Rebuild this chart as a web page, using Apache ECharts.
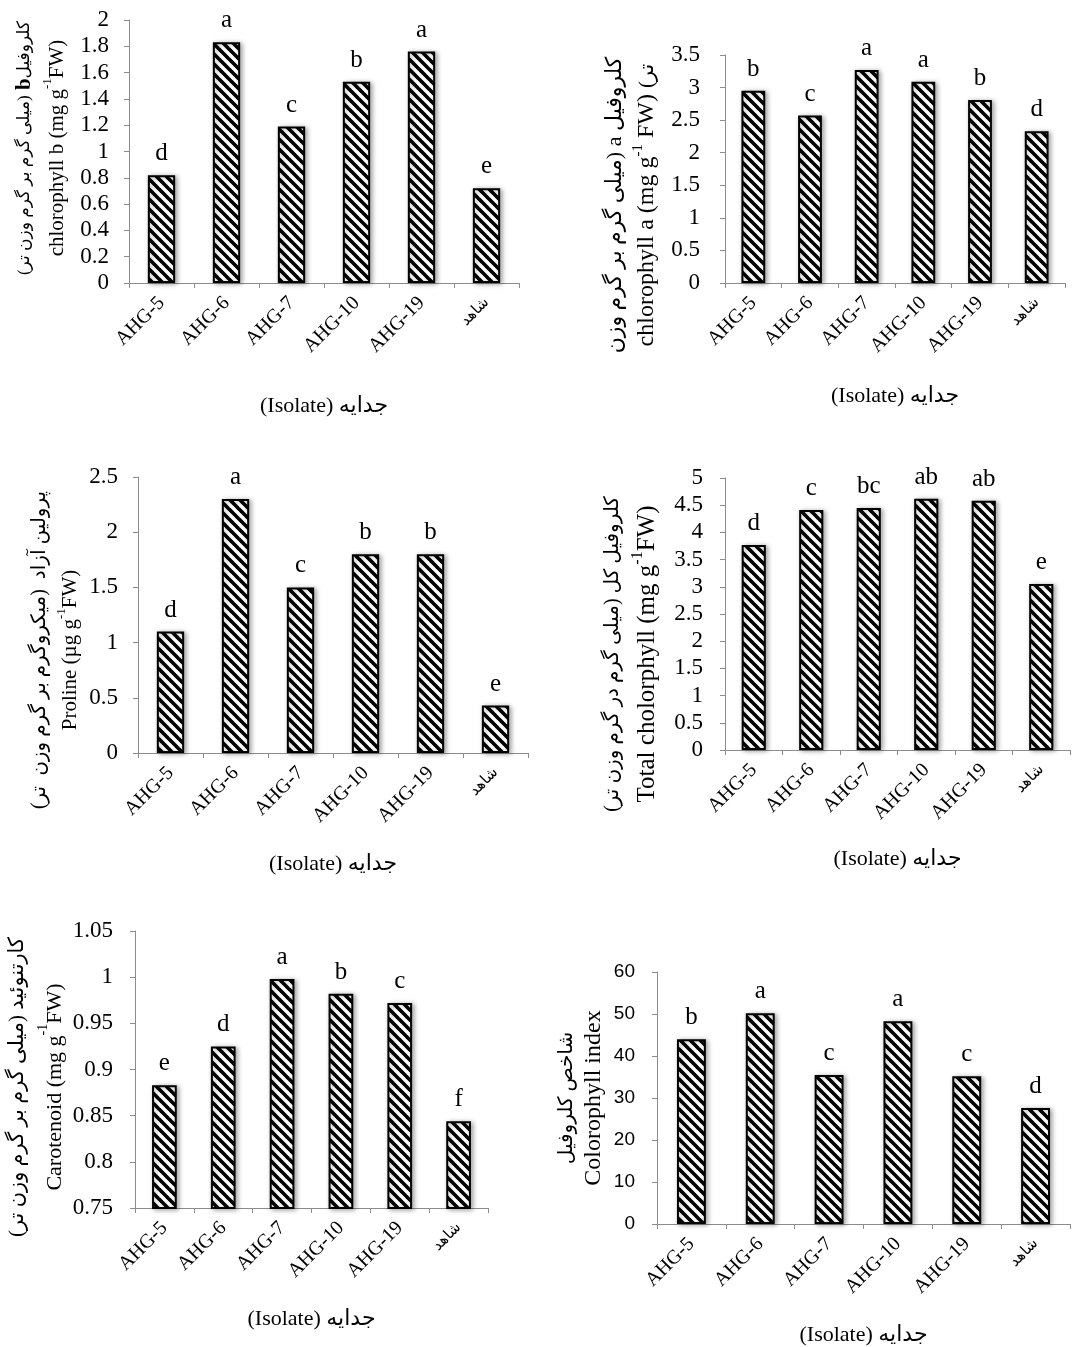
<!DOCTYPE html>
<html>
<head>
<meta charset="utf-8">
<script src="https://cdn.jsdelivr.net/npm/echarts@6/dist/echarts.min.js"></script>
<style>
html,body{margin:0;padding:0;background:#fff;}
#chart{width:1072px;height:1347px;}
</style>
</head>
<body>
<div id="chart"></div>
<script>
// ---------- data ----------
const categories = ['AHG-5', 'AHG-6', 'AHG-7', 'AHG-10', 'AHG-19', 'شاهد'];

const chlorophyllB = [0.82, 1.83, 1.19, 1.53, 1.76, 0.72];
const chlorophyllBLetters = ['d', 'a', 'c', 'b', 'a', 'e'];

const chlorophyllA = [2.95, 2.57, 3.27, 3.09, 2.81, 2.33];
const chlorophyllALetters = ['b', 'c', 'a', 'a', 'b', 'd'];

const proline = [1.10, 2.30, 1.50, 1.80, 1.80, 0.43];
const prolineLetters = ['d', 'a', 'c', 'b', 'b', 'e'];

const totalChlorophyll = [3.77, 4.41, 4.45, 4.62, 4.58, 3.05];
const totalChlorophyllLetters = ['d', 'c', 'bc', 'ab', 'ab', 'e'];

const carotenoid = [0.883, 0.925, 0.998, 0.982, 0.972, 0.844];
const carotenoidLetters = ['e', 'd', 'a', 'b', 'c', 'f'];

const chlorophyllIndex = [44.0, 50.2, 35.5, 48.3, 35.2, 27.6];
const chlorophyllIndexLetters = ['b', 'a', 'c', 'a', 'c', 'd'];

// y-axis scales (min, max, interval)
const yScales = [
  [0, 2, 0.2],
  [0, 3.5, 0.5],
  [0, 2.5, 0.5],
  [0, 5, 0.5],
  [0.75, 1.05, 0.05],
  [0, 60, 10]
];

const xAxisTitle = '(Isolate) جدایه';

// ---------- styling ----------
const SERIF = "'Liberation Serif', 'Times New Roman', 'DejaVu Sans', serif";
const SANS = "'Liberation Sans', Arial, 'DejaVu Sans', sans-serif";
const RLE = '\u202B', PDF = '\u202C';
const rtl = s => RLE + s + PDF;

function makePattern() {
  const c = document.createElement('canvas');
  const n = 10;
  c.width = n; c.height = n;
  const g = c.getContext('2d');
  g.fillStyle = '#fff';
  g.fillRect(0, 0, n, n);
  g.strokeStyle = '#000';
  g.lineWidth = 3.6;
  g.lineCap = 'square';
  for (const o of [-n, 0, n]) {
    g.beginPath();
    g.moveTo(o - 2, -2);
    g.lineTo(o + n + 2, n + 2);
    g.stroke();
  }
  return c;
}
const pattern = makePattern();

// grids: [left, top, width, height]
const grids = [
  [129, 20, 390, 263],
  [725, 55, 340, 228],
  [138, 477, 390, 276],
  [725, 478, 345, 272],
  [135, 931, 353, 277],
  [657, 972, 413, 253]
];

// y-axis titles: [centerX, centerY, persianSize, englishSize, lineHeight]
const yTitleLayout = [
  [41, 148, 17, 21, 32],
  [631, 205, 22, 24, 32],
  [55, 650, 20, 21, 30],
  [630, 654, 20, 25, 34],
  [36, 1087, 21, 22, 38],
  [580, 1098, 20, 24, 27]
];
const yTitles = [
  '{per|' + '(میلی گرم بر گرم وزن تر)' + '}{perB| b}{per|' + 'کلروفیل' + '}\n{en|chlorophyll b (mg g}{sup|-1}{en|FW)}',
  '{per|' + rtl('کلروفیل a (میلی گرم بر گرم وزن') + '}\n{en|chlorophyll a (mg g}{sup|-1}{en| FW) }{per2|' + '(تر' + '}',
  '{per|' + rtl('پرولین آزاد  (میکروگرم بر گرم وزن  تر)') + '}\n{en|Proline (µg g}{sup|-1}{en|FW)}',
  '{per|' + rtl('کلروفیل کل (میلی گرم در گرم وزن تر)') + '}\n{en|Total cholorphyll (mg g}{sup|-1}{en|FW)}',
  '{per|' + rtl('کارتنوئید (میلی گرم بر گرم وزن تر)') + '}\n{en|Carotenoid (mg g}{sup|-1}{en|FW)}',
  '{per|' + rtl('شاخص کلروفیل') + '}\n{en|Colorophyll index}'
];

const yLabelMargins = [20, 25, 20, 22, 22, 22];
const xNameGaps = [112, 102, 100, 98, 100, 100];

const seriesValues = [chlorophyllB, chlorophyllA, proline, totalChlorophyll, carotenoid, chlorophyllIndex];
const seriesLetters = [chlorophyllBLetters, chlorophyllALetters, prolineLetters, totalChlorophyllLetters, carotenoidLetters, chlorophyllIndexLetters];

const axisGray = '#8c8c8c';

function titleRich(ps, es, lh) {
  return {
    per: { fontFamily: SERIF, fontSize: ps, color: '#000', lineHeight: lh },
    per2: { fontFamily: SERIF, fontSize: es - 3, color: '#000', lineHeight: lh },
    perB: { fontFamily: SERIF, fontSize: ps + 4, fontWeight: 'bold', color: '#000', lineHeight: lh },
    en: { fontFamily: SERIF, fontSize: es, color: '#000', lineHeight: lh },
    sup: { fontFamily: SERIF, fontSize: Math.round(es * 0.62), color: '#000', verticalAlign: 'top', lineHeight: lh }
  };
}

const option = {
  backgroundColor: '#fff',
  animation: false,
  grid: grids.map(g => ({ left: g[0], top: g[1], width: g[2], height: g[3], containLabel: false })),
  graphic: yTitles.map((t, i) => {
    const L = yTitleLayout[i];
    return {
      type: 'text',
      x: L[0],
      y: L[1],
      rotation: Math.PI / 2,
      silent: true,
      style: {
        text: t,
        align: 'center',
        verticalAlign: 'middle',
        fill: '#000',
        font: L[3] + 'px ' + SERIF,
        rich: titleRich(L[2], L[3], L[4])
      }
    };
  }),
  xAxis: grids.map((g, i) => ({
    type: 'category',
    gridIndex: i,
    data: categories.map(c => c === 'شاهد'
      ? { value: c, textStyle: { fontFamily: SANS, fontSize: 15 } }
      : c),
    boundaryGap: true,
    axisLine: { show: true, lineStyle: { color: axisGray, width: 1 } },
    axisTick: { show: true, length: 5, lineStyle: { color: axisGray } },
    axisLabel: { interval: 0, rotate: 45, margin: 17, fontFamily: SERIF, fontSize: 20, color: '#000' },
    splitLine: { show: false },
    name: xAxisTitle,
    nameLocation: 'middle',
    nameGap: xNameGaps[i],
    nameTextStyle: { fontFamily: SERIF, fontSize: 22, color: '#000' }
  })),
  yAxis: grids.map((g, i) => ({
    type: 'value',
    gridIndex: i,
    min: yScales[i][0],
    max: yScales[i][1],
    interval: yScales[i][2],
    axisLine: { show: true, lineStyle: { color: axisGray, width: 1 } },
    axisTick: { show: true, length: 5, lineStyle: { color: axisGray } },
    axisLabel: {
      margin: yLabelMargins[i],
      fontFamily: i === 5 ? SANS : SERIF,
      fontSize: i === 5 ? 19 : 23,
      color: '#000',
      formatter: v => String(Math.round(v * 1000) / 1000)
    },
    splitLine: { show: false }
  })),
  series: seriesValues.map((vals, i) => ({
    type: 'bar',
    xAxisIndex: i,
    yAxisIndex: i,
    data: vals,
    barWidth: '42%',
    itemStyle: {
      color: { image: pattern, repeat: 'repeat' },
      borderColor: '#000',
      borderWidth: 2,
      shadowColor: 'rgba(0,0,0,0.35)',
      shadowBlur: 5,
      shadowOffsetX: 2,
      shadowOffsetY: 1
    },
    label: {
      show: true,
      position: 'top',
      distance: 9,
      fontFamily: SERIF,
      fontSize: 25,
      color: '#000',
      formatter: p => seriesLetters[i][p.dataIndex]
    }
  }))
};

const chart = echarts.init(document.getElementById('chart'), null, { renderer: 'canvas' });
chart.setOption(option);
</script>
</body>
</html>
